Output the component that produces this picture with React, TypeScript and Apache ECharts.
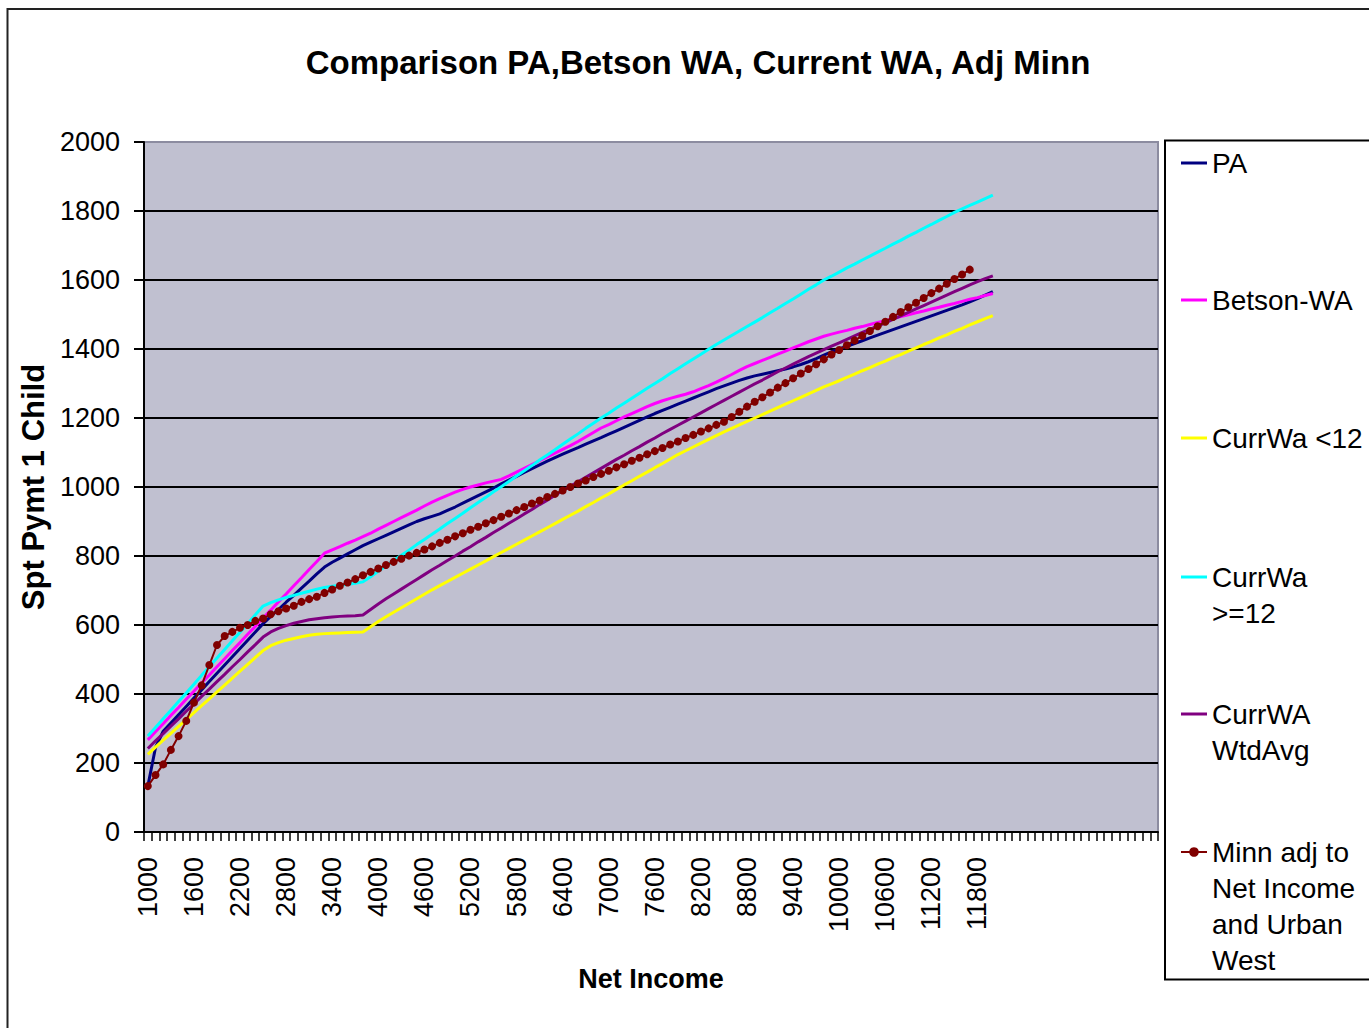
import React, { useEffect, useRef } from "react";
import * as echarts from "echarts";

const FONT = "'Liberation Sans', Arial, sans-serif";

// Net income categories (step 100)
const incomes = [
  1000, 1100, 1200, 1300, 1400, 1500, 1600, 1700, 1800, 1900,
  2000, 2100, 2200, 2300, 2400, 2500, 2600, 2700, 2800, 2900,
  3000, 3100, 3200, 3300, 3400, 3500, 3600, 3700, 3800, 3900,
  4000, 4100, 4200, 4300, 4400, 4500, 4600, 4700, 4800, 4900,
  5000, 5100, 5200, 5300, 5400, 5500, 5600, 5700, 5800, 5900,
  6000, 6100, 6200, 6300, 6400, 6500, 6600, 6700, 6800, 6900,
  7000, 7100, 7200, 7300, 7400, 7500, 7600, 7700, 7800, 7900,
  8000, 8100, 8200, 8300, 8400, 8500, 8600, 8700, 8800, 8900,
  9000, 9100, 9200, 9300, 9400, 9500, 9600, 9700, 9800, 9900,
  10000, 10100, 10200, 10300, 10400, 10500, 10600, 10700, 10800, 10900,
  11000, 11100, 11200, 11300, 11400, 11500, 11600, 11700, 11800, 11900,
  12000,
];
// blank category rows that follow the data in the sheet
const blankRows = ["", "", "", "", "", "", "", "", "", "", "", "", "", "", "", "", "", "", "", "", ""];

const pa = [
  133, 245, 292, 316, 340, 364, 388, 412, 436, 460,
  484, 508, 532, 556, 580, 604, 625, 645, 666, 686,
  707, 727, 748, 768, 782, 794, 806, 818, 830, 840,
  850, 860, 870, 880, 890, 900, 908, 915, 922, 932,
  942, 953, 964, 975, 986, 997, 1009, 1020, 1031, 1042,
  1053, 1064, 1075, 1085, 1095, 1105, 1114, 1124, 1134, 1143,
  1153, 1163, 1173, 1183, 1193, 1203, 1213, 1222, 1231, 1240,
  1249, 1258, 1267, 1276, 1285, 1293, 1301, 1309, 1316, 1322,
  1327, 1332, 1337, 1342, 1348, 1355, 1363, 1372, 1382, 1392,
  1400, 1408, 1416, 1424, 1432, 1440, 1448, 1456, 1464, 1472,
  1480, 1488, 1496, 1504, 1512, 1520, 1528, 1537, 1546, 1556,
  1566,
];

const betsonWA = [
  267, 291, 314, 338, 361, 385, 408, 432, 455, 479,
  502, 526, 549, 573, 596, 620, 643, 667, 690, 714,
  737, 761, 784, 808, 818, 827, 837, 846, 856, 866,
  878, 889, 900, 911, 922, 933, 945, 956, 966, 976,
  985, 993, 1000, 1006, 1012, 1017, 1022, 1032, 1043, 1054,
  1065, 1076, 1087, 1098, 1109, 1120, 1132, 1145, 1158, 1171,
  1181, 1192, 1203, 1213, 1223, 1233, 1242, 1250, 1257, 1263,
  1269, 1276, 1285, 1294, 1304, 1315, 1326, 1338, 1349, 1358,
  1367, 1376, 1385, 1394, 1403, 1412, 1421, 1429, 1437, 1443,
  1449, 1454, 1460, 1465, 1471, 1477, 1482, 1488, 1494, 1499,
  1505, 1510, 1516, 1521, 1527, 1532, 1538, 1544, 1549, 1555,
  1561,
];

const currWaUnder12 = [
  225, 246, 266, 286, 306, 326, 346, 366, 386, 406,
  426, 446, 466, 486, 506, 526, 540, 549, 556, 561,
  566, 570, 573, 575, 576, 577, 578, 579, 580, 595,
  610, 624, 637, 650, 663, 676, 689, 702, 714, 726,
  738, 750, 762, 774, 786, 798, 810, 822, 834, 846,
  858, 870, 882, 894, 906, 918, 930, 943, 955, 968,
  980, 993, 1006, 1018, 1031, 1043, 1056, 1068, 1081, 1094,
  1105, 1116, 1127, 1138, 1149, 1160, 1170, 1180, 1190, 1200,
  1210, 1220, 1230, 1240, 1250, 1260, 1270, 1280, 1290, 1299,
  1308, 1318, 1327, 1337, 1346, 1356, 1365, 1375, 1384, 1394,
  1403, 1413, 1422, 1432, 1441, 1451, 1460, 1470, 1479, 1488,
  1497,
];

const currWa12Plus = [
  278, 303, 328, 353, 378, 403, 428, 454, 479, 504,
  529, 554, 579, 604, 630, 655, 665, 673, 680, 686,
  692, 698, 704, 709, 712, 715, 718, 721, 725, 740,
  756, 771, 787, 802, 817, 833, 848, 863, 878, 894,
  909, 924, 940, 955, 970, 986, 1001, 1016, 1032, 1047,
  1062, 1078, 1093, 1108, 1124, 1139, 1154, 1170, 1185, 1200,
  1214, 1229, 1243, 1257, 1272, 1286, 1300, 1314, 1329, 1343,
  1357, 1371, 1385, 1399, 1413, 1426, 1439, 1452, 1465, 1478,
  1491, 1505, 1518, 1532, 1545, 1559, 1573, 1586, 1600, 1611,
  1623, 1635, 1646, 1658, 1669, 1681, 1692, 1704, 1715, 1727,
  1738, 1750, 1761, 1773, 1784, 1796, 1806, 1816, 1826, 1836,
  1846,
];

const currWaWtdAvg = [
  242, 264, 285, 307, 328, 350, 371, 393, 414, 436,
  457, 479, 500, 522, 543, 565, 580, 590, 598, 605,
  610, 615, 618, 621, 623, 625, 626, 627, 629, 645,
  661, 676, 690, 704, 718, 732, 746, 760, 773, 787,
  800, 814, 827, 841, 854, 868, 881, 895, 908, 922,
  935, 949, 962, 976, 989, 1002, 1015, 1028, 1041, 1054,
  1067, 1080, 1092, 1105, 1117, 1130, 1142, 1155, 1167, 1179,
  1191, 1203, 1215, 1227, 1239, 1251, 1263, 1275, 1287, 1299,
  1310, 1322, 1334, 1345, 1356, 1367, 1378, 1388, 1398, 1408,
  1418, 1428, 1438, 1448, 1457, 1466, 1476, 1486, 1496, 1506,
  1516, 1526, 1536, 1546, 1556, 1566, 1576, 1586, 1595, 1604,
  1612,
];

const minnAdj = [
  133, 165, 196, 238, 278, 322, 375, 425, 484, 542,
  568, 580, 592, 600, 612, 619, 631, 640, 648, 656,
  667, 675, 682, 693, 703, 714, 723, 733, 744, 754,
  764, 774, 783, 792, 801, 809, 819, 828, 838, 847,
  857, 866, 876, 885, 895, 904, 914, 923, 933, 942,
  952, 961, 971, 980, 990, 1000, 1010, 1019, 1029, 1038,
  1047, 1057, 1066, 1076, 1085, 1095, 1104, 1113, 1123, 1132,
  1142, 1151, 1161, 1170, 1180, 1189, 1203, 1218, 1233, 1247,
  1260, 1274, 1288, 1301, 1315, 1329, 1342, 1356, 1370, 1384,
  1397, 1411, 1425, 1438, 1452, 1466, 1479, 1493, 1507, 1521,
  1534, 1548, 1562, 1575, 1589, 1603, 1616, 1630,
];

const seriesNames = [
  "PA",
  "Betson-WA",
  "CurrWa <12",
  "CurrWa\n>=12",
  "CurrWA\nWtdAvg",
  "Minn adj to\nNet Income\nand Urban\nWest",
];
const seriesColors = ["#000080", "#FF00FF", "#FFFF00", "#00FFFF", "#800080", "#800000"];
const seriesData = [pa, betsonWA, currWaUnder12, currWa12Plus, currWaWtdAvg, minnAdj];

// first-line centre of each legend entry
const legendLineY = [163, 300, 438, 577, 714, 852];
const LEGEND_LH = 36;

export default function App() {
  const ref = useRef<HTMLDivElement>(null);

  useEffect(() => {
    document.body.style.margin = "0";
    if (!ref.current) return;
    const chart = echarts.init(ref.current, undefined, { renderer: "svg" });

    const categories = [...incomes.map(String), ...blankRows];

    const legends = seriesNames.map((name, i) => {
      const n = name.split("\n").length;
      const isMinn = i === 5;
      return {
        data: [isMinn ? { name } : { name, icon: "rect" }],
        orient: "vertical",
        left: isMinn ? 1180 : 1181,
        top: legendLineY[i] - ((2 * n - 1) * LEGEND_LH) / 2,
        padding: 0,
        itemWidth: 26,
        itemHeight: isMinn ? 12 : 3,
        itemGap: 0,
        selectedMode: false,
        // blank lines on top keep the first text line level with the key
        formatter: (nm: string) => "\n".repeat(n - 1) + nm,
        textStyle: {
          fontSize: 28,
          color: "#000",
          fontFamily: FONT,
          lineHeight: LEGEND_LH,
        },
      };
    });

    const series = seriesNames.map((name, i) => {
      const isMinn = i === 5;
      return {
        name,
        type: "line",
        data: seriesData[i],
        symbol: isMinn ? "circle" : "none",
        symbolSize: 8,
        showSymbol: isMinn,
        showAllSymbol: true,
        itemStyle: { color: seriesColors[i] },
        lineStyle: { color: seriesColors[i], width: isMinn ? 2 : 3 },
        z: 2 + i,
      };
    });

    chart.setOption({
      animation: false,
      backgroundColor: "#ffffff",
      textStyle: { fontFamily: FONT },
      title: {
        text: "Comparison PA,Betson WA, Current WA, Adj Minn",
        left: 698,
        top: 46,
        textAlign: "center",
        padding: 0,
        textStyle: { fontSize: 33, fontWeight: "bold", color: "#000", fontFamily: FONT },
      },
      grid: {
        left: 144,
        top: 142,
        width: 1014,
        height: 690,
        show: true,
        backgroundColor: "#C0C0D0",
        borderColor: "#8C8CA0",
        borderWidth: 2,
      },
      xAxis: {
        type: "category",
        data: categories,
        boundaryGap: true,
        name: "Net Income",
        nameLocation: "middle",
        nameGap: 133,
        nameTextStyle: { fontSize: 27, fontWeight: "bold", color: "#000", fontFamily: FONT },
        axisLine: { show: true, lineStyle: { color: "#000", width: 2 } },
        axisTick: { show: true, interval: 0, length: 9, lineStyle: { color: "#000", width: 1.5 } },
        axisLabel: { interval: 5, rotate: 90, margin: 25, fontSize: 27, color: "#000", fontFamily: FONT },
        splitLine: { show: false },
      },
      yAxis: {
        type: "value",
        min: 0,
        max: 2000,
        interval: 200,
        name: "Spt Pymt 1 Child",
        nameLocation: "middle",
        nameGap: 93,
        nameTextStyle: { fontSize: 31, fontWeight: "bold", color: "#000", fontFamily: FONT },
        axisLine: { show: true, lineStyle: { color: "#000", width: 2 } },
        axisTick: { show: true, length: 10, lineStyle: { color: "#000", width: 2 } },
        axisLabel: {
          margin: 24,
          fontSize: 27,
          color: "#000",
          fontFamily: FONT,
          formatter: (v: number) => String(v),
        },
        splitLine: {
          show: true,
          showMinLine: false,
          showMaxLine: false,
          lineStyle: { color: "#000", width: 2 },
        },
      },
      legend: legends,
      series,
      graphic: [
        {
          type: "rect",
          silent: true,
          z: -10,
          shape: { x: 7.5, y: 9, width: 1600, height: 1300 },
          style: { fill: "none", stroke: "#222", lineWidth: 2 },
        },
        {
          type: "rect",
          silent: true,
          z: -5,
          shape: { x: 1165, y: 140.5, width: 400, height: 839 },
          style: { fill: "none", stroke: "#000", lineWidth: 2 },
        },
      ],
    });

    return () => chart.dispose();
  }, []);

  return <div ref={ref} style={{ width: 1369, height: 1028, overflow: "hidden" }} />;
}
